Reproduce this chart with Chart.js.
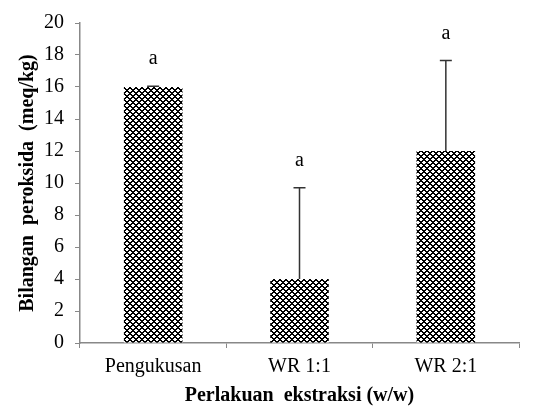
<!DOCTYPE html>
<html>
<head>
<meta charset="utf-8">
<script src="https://cdn.jsdelivr.net/npm/chart.js@4/dist/chart.umd.min.js"></script>
<style>
  html, body { margin: 0; padding: 0; background: #fff; }
  #wrap { width: 537px; height: 414px; }
</style>
</head>
<body>
<div id="wrap"><canvas id="barChart" width="537" height="414"></canvas></div>
<script>
const categories = ["Pengukusan", "WR 1:1", "WR 2:1"];
const meanValues = [16.0, 4.0, 12.0];
const errorTops = [16.05, 9.7, 17.65];
const letters = ["a", "a", "a"];
const yTicks = [0, 2, 4, 6, 8, 10, 12, 14, 16, 18, 20];

// checker / diamond fill like the original
function makePattern() {
  const c = document.createElement("canvas");
  c.width = 6; c.height = 6;
  const g = c.getContext("2d");
  g.fillStyle = "#fff";
  g.fillRect(0, 0, 6, 6);
  g.fillStyle = "#000";
  for (let x = 0; x < 6; x++) {
    for (let y = 0; y < 6; y++) {
      if ((x + y) % 6 < 2 || (x - y + 6) % 6 < 2) g.fillRect(x, y, 1, 1);
    }
  }
  return g.createPattern(c, "repeat");
}

const serif = "'Liberation Serif', 'Times New Roman', serif";

const errorBars = {
  id: "errorBars",
  afterDatasetsDraw(chart) {
    const ctx = chart.ctx;
    const meta = chart.getDatasetMeta(0);
    const y = chart.scales.y;
    ctx.save();
    meta.data.forEach((bar, i) => {
      const x = bar.x;
      const top = y.getPixelForValue(errorTops[i]);
      ctx.strokeStyle = "#333";
      ctx.lineWidth = 1.5;
      ctx.beginPath();
      ctx.moveTo(x, bar.y);
      ctx.lineTo(x, top);
      ctx.moveTo(x - 6, top);
      ctx.lineTo(x + 6, top);
      ctx.stroke();
      ctx.fillStyle = "#000";
      ctx.font = "20px " + serif;
      ctx.textAlign = "center";
      ctx.textBaseline = "alphabetic";
      ctx.fillText(letters[i], x, top - 22);
    });
    ctx.restore();
  }
};

new Chart(document.getElementById("barChart"), {
  type: "bar",
  data: {
    labels: categories,
    datasets: [{
      data: meanValues,
      backgroundColor: makePattern(),
      borderWidth: 0,
      barPercentage: 0.4,
      categoryPercentage: 1.0
    }]
  },
  options: {
    responsive: false,
    animation: false,
    layout: { padding: { top: 20, right: 18, left: 0, bottom: 0 } },
    plugins: { legend: { display: false }, tooltip: { enabled: false } },
    scales: {
      x: {
        afterFit(axis) { axis.height = 71; },
        grid: { display: true, drawOnChartArea: false, offset: true, color: "#888", tickLength: 5 },
        border: { color: "#888", width: 1.5 },
        ticks: { color: "#000", font: { family: serif, size: 20 }, padding: 7 },
        title: {
          display: true,
          text: "Perlakuan  ekstraksi (w/w)",
          color: "#000",
          font: { family: serif, size: 20, weight: "bold" },
          padding: { top: 2, bottom: 6 }
        }
      },
      y: {
        min: 0,
        max: 20,
        afterBuildTicks(axis) { axis.ticks = yTicks.map(v => ({ value: v })); },
        afterFit(axis) { axis.width = 80; },
        grid: { display: true, drawOnChartArea: false, color: "#888", tickLength: 5 },
        border: { color: "#888", width: 1.5 },
        ticks: { color: "#000", font: { family: serif, size: 20 }, padding: 11 },
        title: {
          display: true,
          text: "Bilangan  peroksida  (meq/kg)",
          color: "#000",
          font: { family: serif, size: 20, weight: "bold" },
          padding: { top: 16, bottom: 0 }
        }
      }
    }
  },
  plugins: [errorBars]
});
</script>
</body>
</html>
